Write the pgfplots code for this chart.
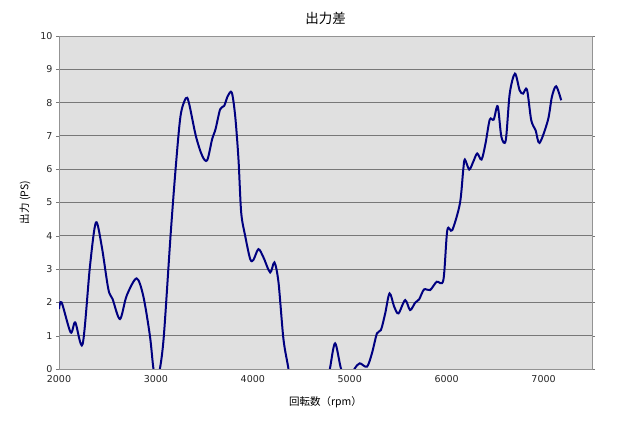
\documentclass[border=0pt]{standalone}
\usepackage{pgfplots}
\pgfplotsset{compat=1.18}
\usepackage{fontspec}
\setmainfont{DejaVu Sans}
\newfontfamily\jp{Noto Sans CJK JP}
\definecolor{plotbg}{HTML}{E0E0E0}
\definecolor{gridc}{HTML}{787878}
\definecolor{navy}{HTML}{000080}
\begin{document}
\begin{tikzpicture}
\path[use as bounding box] (0,0) rectangle (620pt,420pt);
\begin{axis}[
  at={(59pt,51pt)}, anchor=south west,
  scale only axis, width=533pt, height=333pt,
  xmin=2000, xmax=7500, ymin=0, ymax=10,
  xtick={2000,3000,4000,5000,6000,7000},
  ytick={0,1,...,10},
  axis background/.style={fill=plotbg},
  axis line style={gridc!80},
  ymajorgrids, major grid style={gridc, line width=0.8pt},
  tick align=outside, major tick length=3pt,
  tick style={gridc},
  xtick style={draw=none},
  tick label style={font=\fontsize{9.5}{11}\selectfont, text=black!85},
  /pgf/number format/assume math mode=true,
  /pgf/number format/1000 sep={},
  title={\jp\fontsize{13.5}{15}\selectfont 出力差},
  title style={yshift=2pt},
  xlabel={\jp\fontsize{10.5}{12}\selectfont 回転数（rpm）},
  ylabel={\jp\fontsize{10.5}{12}\selectfont 出力 (PS)},
  xlabel style={yshift=-7pt},
  ylabel style={yshift=3pt},
  clip=true,
]
\addplot[navy, line width=2pt, smooth, tension=0.5] coordinates {
(2000,1.8) (2027,2.0) (2120,1.1) (2168,1.4) (2244,0.75) (2320,3.1) (2381,4.4)
(2440,3.7) (2509,2.4) (2553,2.1) (2629,1.5) (2698,2.2) (2800,2.72) (2869,2.2)
(2938,1.0) (2975,0.0) (3008,-0.3) (3041,0.0) (3082,1.0) (3151,4.0) (3203,6.0)
(3254,7.6) (3309,8.13) (3340,8.0) (3412,7.0) (3478,6.4) (3529,6.27) (3580,6.9)
(3615,7.2) (3663,7.8) (3704,7.9) (3742,8.2) (3783,8.3) (3818,7.6) (3852,6.3)
(3880,4.7) (3921,4.0) (3973,3.3) (4007,3.28) (4058,3.6) (4110,3.35) (4179,2.9)
(4223,3.2) (4265,2.6) (4316,0.9) (4368,0.0) (4450,-1.5) (4600,-2.2) (4720,-1.2)
(4795,0.0) (4849,0.77) (4911,0.0) (4980,-0.4) (5048,0.0) (5103,0.17) (5178,0.07)
(5229,0.47) (5281,1.07) (5322,1.17) (5366,1.67) (5411,2.27) (5459,1.87) (5503,1.67)
(5572,2.07) (5623,1.77) (5675,1.99) (5716,2.09) (5767,2.39) (5829,2.37) (5897,2.62)
(5966,2.67) (6007,4.17) (6058,4.17) (6137,4.97) (6171,5.97) (6188,6.29) (6233,5.99)
(6274,6.22) (6315,6.47) (6360,6.29) (6401,6.77) (6445,7.49) (6486,7.49) (6527,7.89)
(6565,6.97) (6610,6.87) (6651,8.27) (6705,8.87) (6753,8.37) (6788,8.27) (6829,8.39)
(6873,7.47) (6918,7.17) (6959,6.79) (7045,7.47) (7086,8.17) (7130,8.49) (7182,8.07)
};
\end{axis}
\end{tikzpicture}
\end{document}
